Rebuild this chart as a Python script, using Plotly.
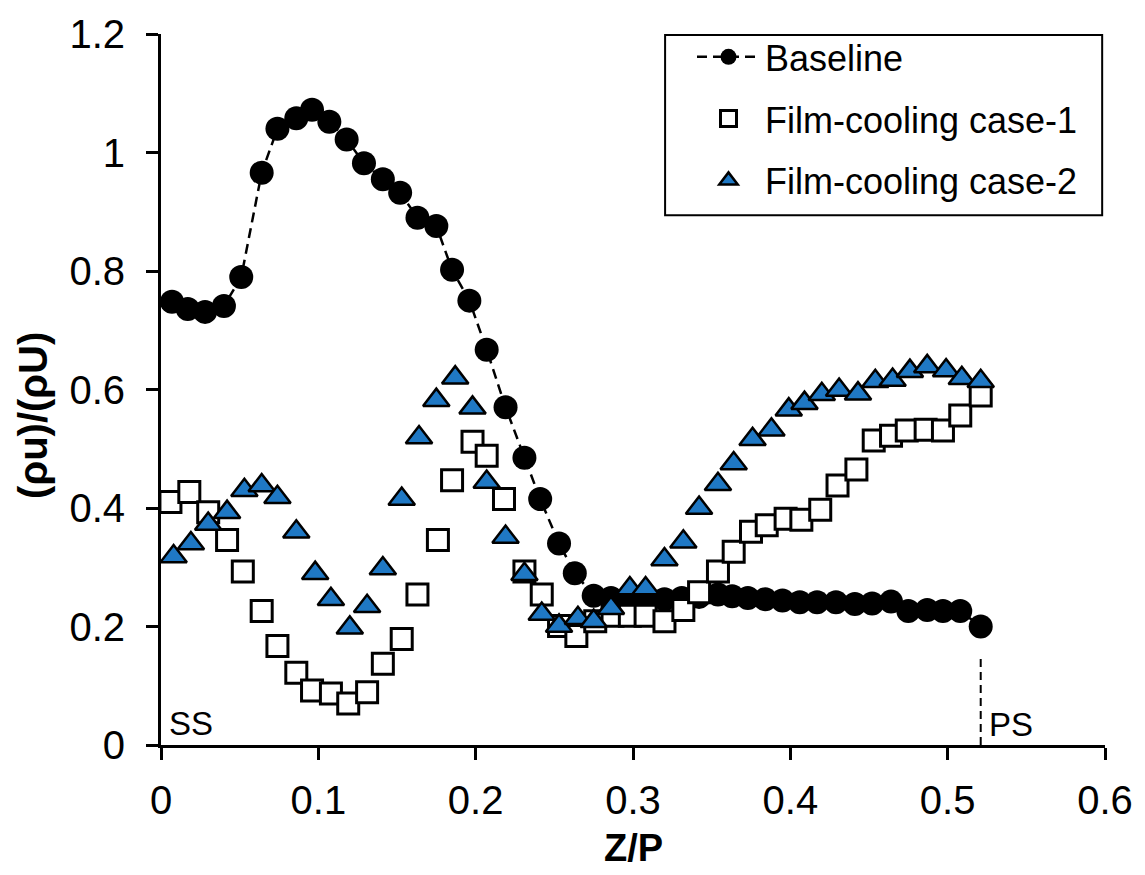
import plotly.graph_objects as go

# ---- data ----
base_x = [0.007, 0.017, 0.028, 0.040, 0.051, 0.064, 0.074, 0.086, 0.096, 0.107,
          0.118, 0.129, 0.141, 0.152, 0.163, 0.175, 0.185, 0.196, 0.207, 0.219,
          0.231, 0.241, 0.253, 0.263, 0.275, 0.286, 0.297, 0.308, 0.320, 0.331,
          0.342, 0.354, 0.363, 0.373, 0.384, 0.395, 0.406, 0.417, 0.429, 0.441,
          0.452, 0.464, 0.475, 0.487, 0.497, 0.508, 0.521]
base_y = [0.748, 0.736, 0.731, 0.741, 0.790, 0.966, 1.040, 1.058, 1.072, 1.052,
          1.022, 0.982, 0.955, 0.932, 0.890, 0.876, 0.802, 0.750, 0.667, 0.570,
          0.485, 0.415, 0.340, 0.290, 0.252, 0.248, 0.247, 0.246, 0.246, 0.248,
          0.250, 0.254, 0.251, 0.248, 0.246, 0.244, 0.241, 0.241, 0.241, 0.238,
          0.239, 0.242, 0.226, 0.228, 0.226, 0.226, 0.200]

case1_x = [0.006, 0.018, 0.030, 0.042, 0.052, 0.064, 0.074, 0.086, 0.096, 0.108,
           0.119, 0.131, 0.141, 0.153, 0.163, 0.176, 0.185, 0.198, 0.207, 0.218,
           0.231, 0.242, 0.253, 0.264, 0.276, 0.287, 0.298, 0.308, 0.320, 0.332,
           0.342, 0.354, 0.364, 0.375, 0.385, 0.397, 0.407, 0.419, 0.430, 0.442,
           0.453, 0.464, 0.474, 0.486, 0.497, 0.508, 0.521]
case1_y = [0.410, 0.427, 0.393, 0.346, 0.293, 0.226, 0.167, 0.122, 0.092, 0.087,
           0.070, 0.089, 0.137, 0.179, 0.254, 0.346, 0.447, 0.512, 0.488, 0.415,
           0.293, 0.254, 0.201, 0.184, 0.209, 0.218, 0.218, 0.218, 0.209, 0.228,
           0.258, 0.293, 0.326, 0.360, 0.371, 0.382, 0.380, 0.397, 0.438, 0.465,
           0.514, 0.522, 0.531, 0.532, 0.531, 0.556, 0.590]

case2_x = [0.008, 0.019, 0.030, 0.042, 0.053, 0.064, 0.074, 0.086, 0.098, 0.108,
           0.120, 0.131, 0.141, 0.153, 0.164, 0.175, 0.187, 0.198, 0.207, 0.219,
           0.231, 0.242, 0.253, 0.265, 0.275, 0.286, 0.298, 0.308, 0.320, 0.332,
           0.342, 0.354, 0.364, 0.376, 0.388, 0.399, 0.409, 0.420, 0.431, 0.443,
           0.454, 0.465, 0.476, 0.487, 0.499, 0.509, 0.521]
case2_y = [0.318, 0.340, 0.373, 0.393, 0.430, 0.438, 0.418, 0.360, 0.290, 0.246,
           0.198, 0.234, 0.298, 0.415, 0.519, 0.582, 0.620, 0.569, 0.444, 0.351,
           0.288, 0.221, 0.201, 0.214, 0.209, 0.231, 0.264, 0.264, 0.313, 0.343,
           0.400, 0.440, 0.475, 0.516, 0.532, 0.566, 0.577, 0.592, 0.599, 0.593,
           0.614, 0.616, 0.631, 0.639, 0.632, 0.619, 0.614]

x_ticks = [0, 0.1, 0.2, 0.3, 0.4, 0.5, 0.6]
x_tick_text = ["0", "0.1", "0.2", "0.3", "0.4", "0.5", "0.6"]
y_ticks = [0, 0.2, 0.4, 0.6, 0.8, 1.0, 1.2]
y_tick_text = ["0", "0.2", "0.4", "0.6", "0.8", "1", "1.2"]

ps_x = 0.521
ps_top = 0.147

FONT = "Liberation Sans, Arial, sans-serif"
BLUE = "#1f78c4"

fig = go.Figure()
fig.add_trace(go.Scatter(
    x=base_x, y=base_y, name="Baseline", mode="lines+markers", legendgroup="a",
    line=dict(color="black", width=2.5, dash="10px,6px"),
    marker=dict(symbol="circle", size=24, color="black"),
))
fig.add_trace(go.Scatter(
    x=case1_x, y=case1_y, name="Film-cooling case-1", mode="markers", legendgroup="b",
    marker=dict(symbol="square", size=21, color="white",
                line=dict(color="black", width=3)),
))
fig.add_trace(go.Scatter(
    x=case2_x, y=case2_y, name="Film-cooling case-2", mode="markers", legendgroup="c",
    marker=dict(symbol="triangle-up", size=23, color=BLUE,
                line=dict(color="black", width=2.5)),
))

# PS marker line and side labels
fig.add_shape(type="line", x0=ps_x, x1=ps_x, y0=0, y1=ps_top, xref="x", yref="y",
              line=dict(color="black", width=2, dash="8px,5px"))
fig.add_annotation(x=0.004, y=0.037, xref="x", yref="y", text="SS", showarrow=False,
                   xanchor="left", yanchor="middle", font=dict(family=FONT, size=33, color="black"))
fig.add_annotation(x=ps_x + 0.004, y=0.035, xref="x", yref="y", text="PS", showarrow=False,
                   xanchor="left", yanchor="middle", font=dict(family=FONT, size=33, color="black"))

# legend box
fig.add_shape(type="rect", xref="paper", yref="paper", x0=0.534, x1=0.997, y0=0.745, y1=0.9986,
              line=dict(color="black", width=2), fillcolor="rgba(0,0,0,0)", layer="above")

# axis titles
fig.add_annotation(x=0.5, y=-0.1448, xref="paper", yref="paper", text="<b>Z/P</b>",
                   showarrow=False, xanchor="center", yanchor="middle",
                   font=dict(family=FONT, size=38, color="black"))
fig.add_annotation(x=-0.1349, y=0.4638, xref="paper", yref="paper", text="<b>(ρu)/(ρU)</b>",
                   showarrow=False, xanchor="center", yanchor="middle", textangle=-90,
                   font=dict(family=FONT, size=40, color="black"))

fig.update_layout(
    width=1145, height=875,
    margin=dict(l=161, r=35, t=27, b=130),
    paper_bgcolor="white", plot_bgcolor="white",
    font=dict(family=FONT, color="black"),
    showlegend=True,
    legend=dict(x=0.5625, y=1.010, xanchor="left", yanchor="top",
                bgcolor="rgba(0,0,0,0)", borderwidth=0,
                font=dict(family=FONT, size=36, color="black"),
                tracegroupgap=12, itemwidth=63, traceorder="grouped"),
)
fig.update_xaxes(range=[0, 0.6], tickvals=x_ticks, ticktext=x_tick_text,
                 showgrid=False, zeroline=False, showline=True, linecolor="black", linewidth=3,
                 ticks="outside", ticklen=12, tickwidth=2.5, tickcolor="black",
                 ticklabelstandoff=6,
                 tickfont=dict(family=FONT, size=40, color="black"))
fig.update_yaxes(range=[0, 1.2], tickvals=y_ticks, ticktext=y_tick_text,
                 showgrid=False, zeroline=False, showline=True, linecolor="black", linewidth=3,
                 ticks="outside", ticklen=12, tickwidth=2.5, tickcolor="black",
                 ticklabelstandoff=13,
                 tickfont=dict(family=FONT, size=40, color="black"))

fig.write_html("out.html")
